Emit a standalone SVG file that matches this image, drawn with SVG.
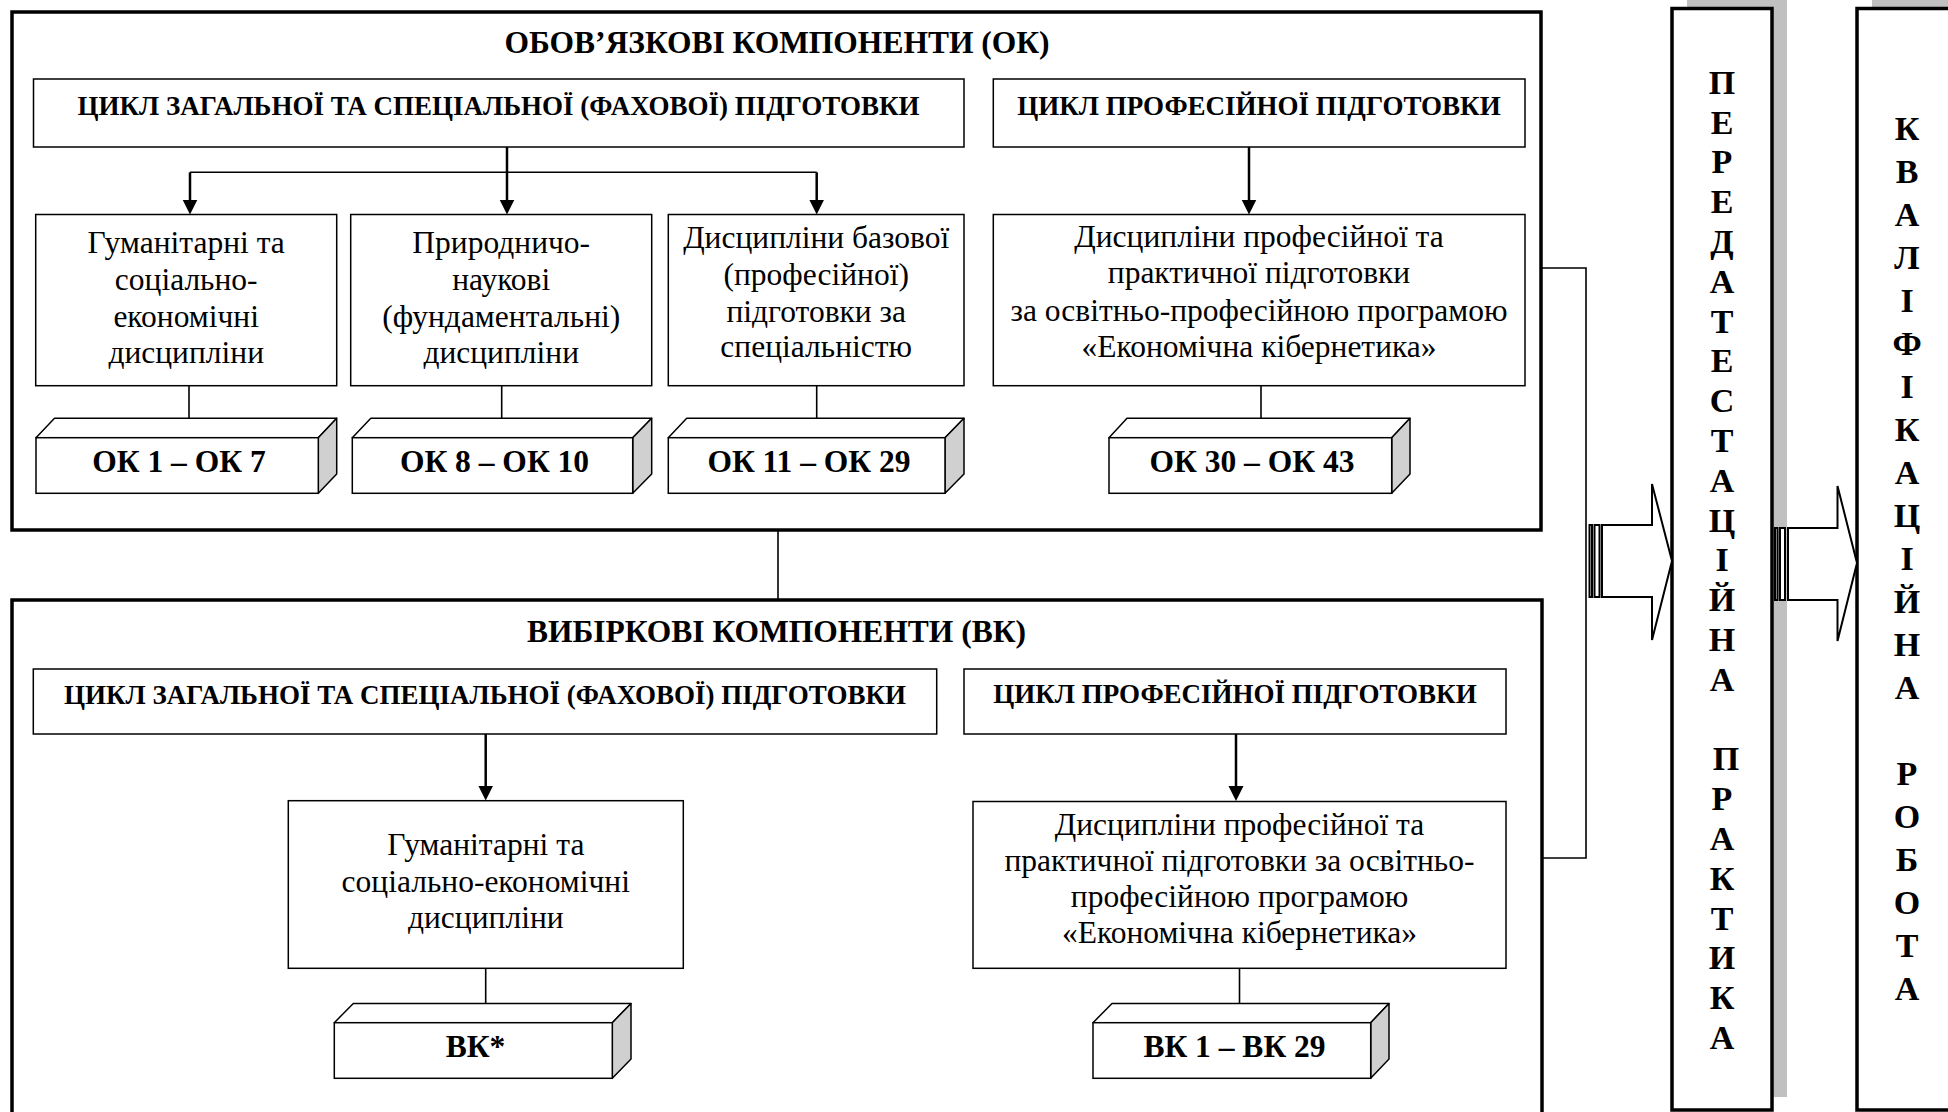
<svg xmlns="http://www.w3.org/2000/svg" width="1948" height="1112" viewBox="0 0 1948 1112">
<defs>
<style>
.outer{fill:#fff;stroke:#000;stroke-width:3.5}
.box{fill:#fff;stroke:#000;stroke-width:1.5}
.side{fill:#d0d0d0;stroke:#000;stroke-width:1.5;stroke-linejoin:round}
.top{fill:#fff;stroke:#000;stroke-width:1.5;stroke-linejoin:round}
.ln{fill:none;stroke:#000;stroke-width:1.6}
.arr{fill:none;stroke:#000;stroke-width:2.5;marker-end:url(#ah)}
.blk{fill:#fff;stroke:#000;stroke-width:2;stroke-linejoin:miter}
.shadow{fill:#c0c0c0}
text{font-family:"Liberation Serif","Times New Roman",serif;fill:#000;text-anchor:middle}
.title{font-size:31.5px;font-weight:bold}
.sub{font-size:27px;font-weight:bold}
.body{font-size:31.5px}
.code{font-size:31.5px;font-weight:bold}
.vert{font-size:34px;font-weight:bold}
</style>
<marker id="ah" markerUnits="userSpaceOnUse" markerWidth="16" markerHeight="16" refX="3" refY="7.5" orient="auto">
<path d="M0,0 L15,7.5 L0,15 z" fill="#000"/>
</marker>
</defs>
<rect width="1948" height="1112" fill="#fff"/>

<g id="practice">
<rect class="shadow" x="1687" y="-5" width="100" height="1102"/>
<rect x="1672" y="8.5" width="100" height="1101.5" fill="#fff" stroke="#000" stroke-width="3.5"/>
<text class="vert"><tspan x="1722" y="93.8">П</tspan><tspan x="1722" y="133.6">Е</tspan><tspan x="1722" y="173.4">Р</tspan><tspan x="1722" y="213.2">Е</tspan><tspan x="1722" y="253">Д</tspan><tspan x="1722" y="292.8">А</tspan><tspan x="1722" y="332.6">Т</tspan><tspan x="1722" y="372.4">Е</tspan><tspan x="1722" y="412.2">С</tspan><tspan x="1722" y="452">Т</tspan><tspan x="1722" y="491.8">А</tspan><tspan x="1722" y="531.6">Ц</tspan><tspan x="1722" y="571.4">І</tspan><tspan x="1722" y="611.2">Й</tspan><tspan x="1722" y="651">Н</tspan><tspan x="1722" y="690.8">А</tspan><tspan x="1726" y="770.4">П</tspan><tspan x="1722" y="810.2">Р</tspan><tspan x="1722" y="850">А</tspan><tspan x="1722" y="889.8">К</tspan><tspan x="1722" y="929.6">Т</tspan><tspan x="1722" y="969.4">И</tspan><tspan x="1722" y="1009.2">К</tspan><tspan x="1722" y="1049">А</tspan></text>
</g>
<g id="thesis">
<rect class="shadow" x="1872" y="-5" width="100" height="1102"/>
<rect x="1857" y="8.5" width="100" height="1101.5" fill="#fff" stroke="#000" stroke-width="3.5"/>
<text class="vert"><tspan x="1907" y="139.7">К</tspan><tspan x="1907" y="182.7">В</tspan><tspan x="1907" y="225.7">А</tspan><tspan x="1907" y="268.7">Л</tspan><tspan x="1907" y="311.7">І</tspan><tspan x="1907" y="354.7">Ф</tspan><tspan x="1907" y="397.7">І</tspan><tspan x="1907" y="440.7">К</tspan><tspan x="1907" y="483.7">А</tspan><tspan x="1907" y="526.7">Ц</tspan><tspan x="1907" y="569.7">І</tspan><tspan x="1907" y="612.7">Й</tspan><tspan x="1907" y="655.7">Н</tspan><tspan x="1907" y="698.7">А</tspan><tspan x="1907" y="784.7">Р</tspan><tspan x="1907" y="827.7">О</tspan><tspan x="1907" y="870.7">Б</tspan><tspan x="1907" y="913.7">О</tspan><tspan x="1907" y="956.7">Т</tspan><tspan x="1907" y="999.7">А</tspan></text>
</g>

<g id="ok-container">
<rect class="outer" x="12" y="12" width="1529" height="518"/>
<text class="title" x="777" y="53">ОБОВ’ЯЗКОВІ КОМПОНЕНТИ (ОК)</text>
</g>
<g id="vk-container">
<rect class="outer" x="12" y="600" width="1530" height="520"/>
<text class="title" x="776.5" y="641.7">ВИБІРКОВІ КОМПОНЕНТИ (ВК)</text>
</g>

<g id="connectors">
<line class="ln" x1="778" y1="530" x2="778" y2="600"/>
<polyline class="ln" points="1541,268 1586,268 1586,858 1542,858"/>
<line class="arr" x1="507" y1="147" x2="507" y2="202.5"/>
<polyline class="ln" points="190,172.3 816.7,172.3"/>
<line class="arr" x1="190" y1="172.3" x2="190" y2="202.5"/>
<line class="arr" x1="816.7" y1="172.3" x2="816.7" y2="202.5"/>
<line class="arr" x1="1249" y1="147" x2="1249" y2="202.5"/>
<line class="ln" x1="189" y1="386" x2="189" y2="418.3"/>
<line class="ln" x1="501.7" y1="386" x2="501.7" y2="418.3"/>
<line class="ln" x1="816.7" y1="386" x2="816.7" y2="418.3"/>
<line class="ln" x1="1261" y1="386" x2="1261" y2="418.3"/>
<line class="arr" x1="485.7" y1="734" x2="485.7" y2="788.5"/>
<line class="arr" x1="1236" y1="734" x2="1236" y2="789"/>
<line class="ln" x1="485.7" y1="968.3" x2="485.7" y2="1003.5"/>
<line class="ln" x1="1239.5" y1="968.3" x2="1239.5" y2="1003.5"/>
<rect class="blk" x="1589.5" y="525" width="2.5" height="72"/>
<rect class="blk" x="1594.5" y="525" width="5" height="72"/>
<polygon class="blk" points="1602,525 1652,525 1652,484 1672,561 1652,640 1652,597 1602,597"/>
<rect class="blk" x="1775" y="528" width="2.5" height="72"/>
<rect class="blk" x="1780" y="528" width="5" height="72"/>
<polygon class="blk" points="1788,528 1837.5,528 1837.5,486 1857,563 1837.5,641 1837.5,600 1788,600"/>
</g>

<g id="ok-general">
<rect class="box" x="33.5" y="79" width="930.5" height="68"/>
<text class="sub" x="498.5" y="115">ЦИКЛ ЗАГАЛЬНОЇ ТА СПЕЦІАЛЬНОЇ (ФАХОВОЇ) ПІДГОТОВКИ</text>
</g>
<g id="ok-prof">
<rect class="box" x="993.3" y="79" width="531.7" height="68"/>
<text class="sub" x="1259" y="115">ЦИКЛ ПРОФЕСІЙНОЇ ПІДГОТОВКИ</text>
</g>

<g id="ok-hum">
<rect class="box" x="35.7" y="214.5" width="301" height="171.2"/>
<text class="body"><tspan x="186.2" y="253.3">Гуманітарні та</tspan><tspan x="186.2" y="290">соціально-</tspan><tspan x="186.2" y="326.7">економічні</tspan><tspan x="186.2" y="363.3">дисципліни</tspan></text>
</g>
<g id="ok-nat">
<rect class="box" x="350.7" y="214.5" width="301" height="171.2"/>
<text class="body"><tspan x="501.2" y="253.3">Природничо-</tspan><tspan x="501.2" y="290">наукові</tspan><tspan x="501.2" y="326.7">(фундаментальні)</tspan><tspan x="501.2" y="363.3">дисципліни</tspan></text>
</g>
<g id="ok-base">
<rect class="box" x="668.3" y="214.5" width="295.7" height="171.2"/>
<text class="body"><tspan x="816.2" y="248.3">Дисципліни базової</tspan><tspan x="816.2" y="285">(професійної)</tspan><tspan x="816.2" y="321.7">підготовки за</tspan><tspan x="816.2" y="357.3">спеціальністю</tspan></text>
</g>
<g id="ok-profdisc">
<rect class="box" x="993.3" y="214.5" width="531.7" height="171.2"/>
<text class="body"><tspan x="1259" y="246.7">Дисципліни професійної та</tspan><tspan x="1259" y="283.3">практичної підготовки</tspan><tspan x="1259" y="321">за освітньо-професійною програмою</tspan><tspan x="1259" y="356.7">«Економічна кібернетика»</tspan></text>
</g>

<g id="ok-1-7">
<polygon class="top" points="36,437.7 54.5,418.3 336.7,418.3 318.3,437.7"/>
<polygon class="side" points="318.3,437.7 336.7,418.3 336.7,474 318.3,493.3"/>
<rect class="box" x="36" y="437.7" width="282.3" height="55.6"/>
<text class="code" x="179" y="472">ОК 1 – ОК 7</text>
</g>
<g id="ok-8-10">
<polygon class="top" points="352.3,437.7 370.8,418.3 651.7,418.3 632.7,437.7"/>
<polygon class="side" points="632.7,437.7 651.7,418.3 651.7,474 632.7,493.3"/>
<rect class="box" x="352.3" y="437.7" width="280.4" height="55.6"/>
<text class="code" x="494.5" y="472">ОК 8 – ОК 10</text>
</g>
<g id="ok-11-29">
<polygon class="top" points="668.3,437.7 686.7,418.3 964,418.3 945,437.7"/>
<polygon class="side" points="945,437.7 964,418.3 964,474 945,493.3"/>
<rect class="box" x="668.3" y="437.7" width="276.7" height="55.6"/>
<text class="code" x="809" y="472">ОК 11 – ОК 29</text>
</g>
<g id="ok-30-43">
<polygon class="top" points="1109,437.7 1127,418.3 1410,418.3 1391.7,437.7"/>
<polygon class="side" points="1391.7,437.7 1410,418.3 1410,474 1391.7,493.3"/>
<rect class="box" x="1109" y="437.7" width="282.7" height="55.6"/>
<text class="code" x="1252" y="472">ОК 30 – ОК 43</text>
</g>

<g id="vk-general">
<rect class="box" x="33.3" y="669" width="903.4" height="65"/>
<text class="sub" x="485" y="704">ЦИКЛ ЗАГАЛЬНОЇ ТА СПЕЦІАЛЬНОЇ (ФАХОВОЇ) ПІДГОТОВКИ</text>
</g>
<g id="vk-prof">
<rect class="box" x="964" y="669" width="542" height="65"/>
<text class="sub" x="1235" y="703.3">ЦИКЛ ПРОФЕСІЙНОЇ ПІДГОТОВКИ</text>
</g>
<g id="vk-hum">
<rect class="box" x="288.3" y="800.7" width="395" height="167.6"/>
<text class="body"><tspan x="485.8" y="855">Гуманітарні та</tspan><tspan x="485.8" y="891.7">соціально-економічні</tspan><tspan x="485.8" y="928.3">дисципліни</tspan></text>
</g>
<g id="vk-profdisc">
<rect class="box" x="973" y="801.5" width="533" height="166.8"/>
<text class="body"><tspan x="1239.5" y="835">Дисципліни професійної та</tspan><tspan x="1239.5" y="870.5">практичної підготовки за освітньо-</tspan><tspan x="1239.5" y="906.7">професійною програмою</tspan><tspan x="1239.5" y="943.3">«Економічна кібернетика»</tspan></text>
</g>
<g id="vk-star">
<polygon class="top" points="334.3,1022.7 353.3,1003.5 631,1003.5 612.3,1022.7"/>
<polygon class="side" points="612.3,1022.7 631,1003.5 631,1059 612.3,1078.3"/>
<rect class="box" x="334.3" y="1022.7" width="278" height="55.6"/>
<text class="code" x="475.5" y="1056.7">ВК*</text>
</g>
<g id="vk-1-29">
<polygon class="top" points="1093,1022.7 1112,1003.5 1389,1003.5 1370.7,1022.7"/>
<polygon class="side" points="1370.7,1022.7 1389,1003.5 1389,1059 1370.7,1078.3"/>
<rect class="box" x="1093" y="1022.7" width="277.7" height="55.6"/>
<text class="code" x="1234.5" y="1056.7">ВК 1 – ВК 29</text>
</g>
</svg>
